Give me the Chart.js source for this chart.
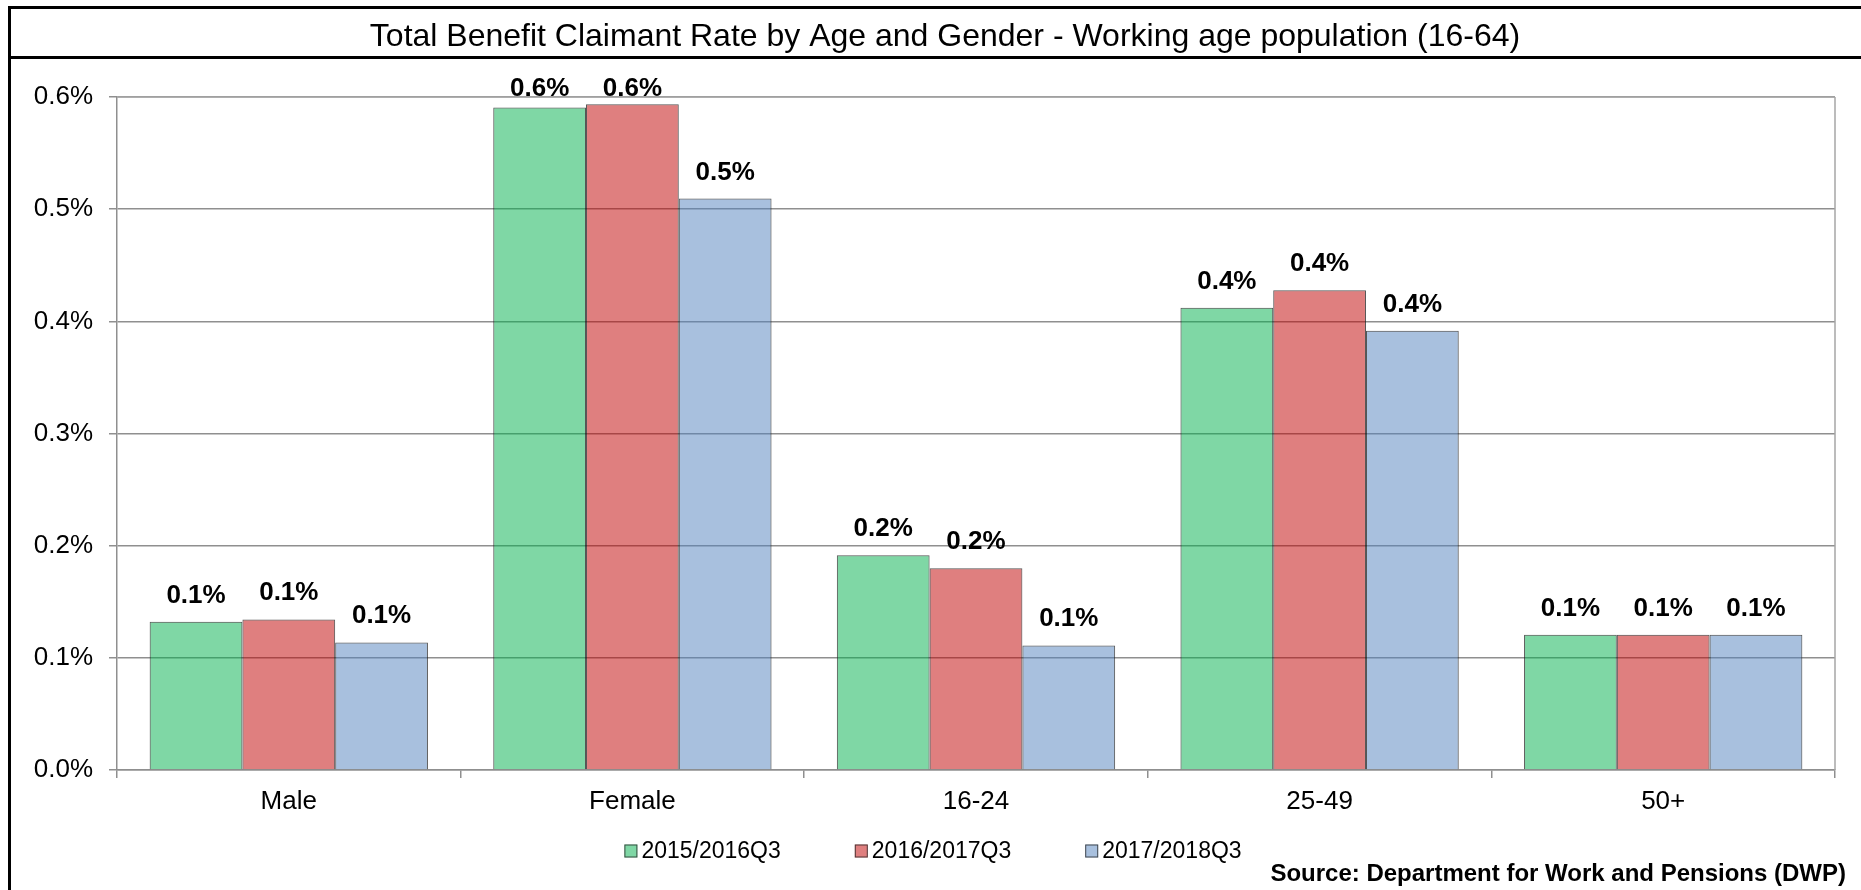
<!DOCTYPE html>
<html>
<head>
<meta charset="utf-8">
<script src="https://cdn.jsdelivr.net/npm/chart.js@4.4.1/dist/chart.umd.min.js"></script>
<style>
  html, body { margin: 0; padding: 0; background: #ffffff; }
  #wrap { width: 1861px; height: 890px; }
</style>
</head>
<body>
<div id="wrap"><canvas id="c" width="1861" height="890"></canvas></div>
<script>
const chartTitle = 'Total Benefit Claimant Rate by Age and Gender - Working age population (16-64)';
const sourceText = 'Source: Department for Work and Pensions (DWP)';
const categories = ['Male', 'Female', '16-24', '25-49', '50+'];
const seriesNames = ['2015/2016Q3', '2016/2017Q3', '2017/2018Q3'];
const series2015 = [0.1321, 0.5906, 0.1915, 0.4120, 0.1206];
const series2016 = [0.1342, 0.5936, 0.1799, 0.4278, 0.1206];
const series2017 = [0.1137, 0.5095, 0.1111, 0.3915, 0.1206];
const yTicks = [0.0, 0.1, 0.2, 0.3, 0.4, 0.5, 0.6];

const FONT = '"Liberation Sans", Arial, sans-serif';
const fills = ['rgba(0,175,75,0.5)', 'rgba(191,0,0,0.5)', 'rgba(81,129,189,0.5)'];
const edge = 'rgba(30,30,30,0.75)';
const gridCol = '#8f8f8f';

const framePlugin = {
  id: 'frame',
  beforeDraw(chart) {
    const ctx = chart.ctx;
    ctx.save();
    ctx.fillStyle = '#ffffff';
    ctx.fillRect(0, 0, chart.width, chart.height);
    ctx.strokeStyle = '#000000';
    ctx.lineWidth = 3;
    ctx.beginPath();
    ctx.moveTo(8, 7.5); ctx.lineTo(chart.width, 7.5);
    ctx.moveTo(8, 57.5); ctx.lineTo(chart.width, 57.5);
    ctx.moveTo(9.5, 6); ctx.lineTo(9.5, chart.height);
    ctx.stroke();
    // title
    ctx.fillStyle = '#000000';
    ctx.font = '32px ' + FONT;
    ctx.textAlign = 'center';
    ctx.textBaseline = 'middle';
    ctx.fillText(chartTitle, 945, 37);
    ctx.restore();
  },
  afterDraw(chart) {
    const ctx = chart.ctx;
    const a = chart.chartArea;
    ctx.save();
    // plot area right/top border
    ctx.strokeStyle = '#a6a6a6';
    ctx.lineWidth = 1.5;
    ctx.beginPath();
    ctx.moveTo(a.right, a.top); ctx.lineTo(a.right, a.bottom);
    ctx.moveTo(a.left, a.top); ctx.lineTo(a.right, a.top);
    ctx.stroke();
    // data labels
    ctx.fillStyle = '#000000';
    ctx.font = 'bold 26px ' + FONT;
    ctx.textAlign = 'center';
    ctx.textBaseline = 'alphabetic';
    chart.data.datasets.forEach((ds, di) => {
      const meta = chart.getDatasetMeta(di);
      meta.data.forEach((bar, i) => {
        const v = ds.data[i];
        let yb = bar.y - 19;
        if (yb < 96) yb = 96;
        ctx.fillText(v.toFixed(1) + '%', bar.x, yb);
      });
    });
    // legend
    ctx.font = '23px ' + FONT;
    ctx.textAlign = 'left';
    ctx.textBaseline = 'middle';
    const box = 13, gapText = 4, gapItem = 74;
    const widths = chart.data.datasets.map(ds => box + gapText + ctx.measureText(ds.label).width);
    const total = widths.reduce((s, w) => s + w, 0) + gapItem * (widths.length - 1);
    let x = 933 - total / 2;
    const ly = 851;
    chart.data.datasets.forEach((ds, di) => {
      ctx.fillStyle = ds.backgroundColor;
      ctx.fillRect(x, ly - box / 2, box, box);
      ctx.strokeStyle = edge;
      ctx.lineWidth = 1;
      ctx.strokeRect(x + 0.5, ly - box / 2 + 0.5, box - 1, box - 1);
      ctx.fillStyle = '#000000';
      ctx.fillText(ds.label, x + box + gapText, ly + 1);
      x += widths[di] + gapItem;
    });
    // source
    ctx.font = 'bold 24px ' + FONT;
    ctx.textAlign = 'right';
    ctx.textBaseline = 'alphabetic';
    ctx.fillText(sourceText, 1846, 881);
    ctx.restore();
  }
};

const allSeries = [series2015, series2016, series2017];
new Chart(document.getElementById('c'), {
  type: 'bar',
  data: {
    labels: categories,
    datasets: seriesNames.map((name, i) => ({
      label: name,
      data: allSeries[i],
      backgroundColor: fills[i],
      borderColor: edge,
      borderWidth: 1,
      categoryPercentage: 0.81,
      barPercentage: 1.0
    }))
  },
  options: {
    responsive: false,
    animation: false,
    devicePixelRatio: 1,
    layout: { padding: { left: 0, top: 97, right: 26, bottom: 60 } },
    plugins: {
      legend: { display: false },
      title: { display: false },
      tooltip: { enabled: false }
    },
    scales: {
      x: {
        grid: { offset: true, drawOnChartArea: false, drawTicks: true, tickLength: 8, color: gridCol, lineWidth: 1.5 },
        border: { display: true, color: gridCol, width: 1.5 },
        ticks: { font: { family: FONT, size: 26 }, color: '#000000', padding: 8, maxRotation: 0 },
        afterFit(s) { s.height = 60; }
      },
      y: {
        min: 0,
        max: 0.6,
        afterBuildTicks(s) { s.ticks = yTicks.map(v => ({ value: v })); },
        ticks: {
          font: { family: FONT, size: 26 },
          color: '#000000',
          padding: 16,
          callback: v => Number(v).toFixed(1) + '%'
        },
        grid: { color: gridCol, lineWidth: 1.5, tickLength: 8, drawTicks: true },
        border: { display: true, color: gridCol, width: 1.5 },
        afterFit(s) { s.width = 117; }
      }
    }
  },
  plugins: [framePlugin]
});
</script>
</body>
</html>
